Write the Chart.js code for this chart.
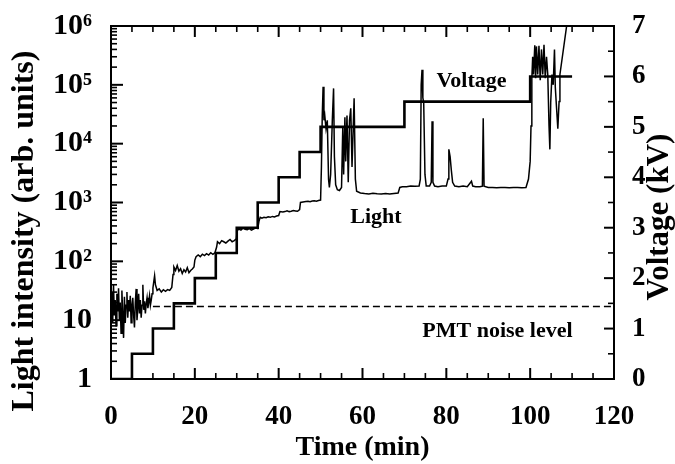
<!DOCTYPE html>
<html>
<head>
<meta charset="utf-8">
<script src="https://cdn.jsdelivr.net/npm/chart.js@4/dist/chart.umd.min.js"></script>
<style>
html,body{margin:0;padding:0;background:#fff;}
#wrap{width:675px;height:464px;}
</style>
</head>
<body>
<div id="wrap"><canvas id="c" width="675" height="464"></canvas></div>
<script>
// ---------- DATA ----------
const voltageTimes  = [0, 5, 10, 15, 20, 25, 30, 35, 40, 45, 50, 70, 100, 110];
const voltageValues = [0, 0.5, 1.0, 1.5, 2.0, 2.5, 3.0, 3.5, 4.0, 4.5, 5.0, 5.5, 6.0, 6.0];

const lightTimes = [
  0.0,0.2,0.4,0.6,0.8,1.0,1.2,1.4,1.6,1.8,
  2.0,2.2,2.4,2.6,2.8,3.0,3.2,3.4,3.6,3.8,
  4.0,4.2,4.4,4.6,4.8,5.0,5.2,5.4,5.6,5.8,
  6.0,6.2,6.4,6.6,6.8,7.0,7.2,7.4,7.6,7.8,
  8.0,8.2,8.4,8.6,8.8,9.0,9.2,9.4,9.6,9.8,
  10.0,10.2,10.4,10.6,10.8,11.0,11.5,12.0,12.5,13.0,
  13.5,14.0,14.5,14.8,15.0,15.4,15.8,16.2,16.6,17.0,
  17.4,17.8,18.2,18.6,19.0,19.4,19.8,20.0,20.3,20.8,
  21.3,21.8,22.3,22.8,23.3,23.8,24.3,24.8,25.2,25.4,
  25.9,26.4,26.9,27.4,27.9,28.4,28.9,29.4,29.9,30.1,
  30.5,31.0,31.5,32.0,32.5,33.0,33.5,34.0,34.5,35.0,
  35.3,35.6,36.0,36.5,37.0,37.5,38.0,38.5,39.0,39.5,
  40.0,40.3,41.0,41.5,42.0,42.5,43.0,43.5,44.0,44.5,
  45.0,45.2,45.8,46.5,47.0,47.5,48.0,48.5,49.0,49.5,
  50.0,50.2,50.4,50.6,50.8,51.0,51.3,51.6,51.9,52.1,
  52.4,52.8,53.1,53.3,53.6,54.0,54.5,55.0,55.3,55.5,
  55.8,56.0,56.3,56.6,56.9,57.2,57.5,57.8,58.0,58.3,
  58.6,59.5,60.5,61.5,62.5,63.5,64.5,65.5,66.5,67.5,
  68.5,68.9,69.5,70.5,71.5,72.5,73.5,73.8,74.0,74.2,
  74.4,74.6,74.9,75.2,76.0,76.4,76.6,76.8,77.2,78.0,
  79.0,80.0,80.4,80.6,80.9,81.2,81.5,82.0,83.0,84.0,
  85.0,86.0,86.3,87.0,88.0,88.6,88.8,89.0,90.0,91.0,
  92.0,93.0,94.0,95.0,96.0,97.0,98.0,99.0,99.6,100.0,
  100.2,100.4,100.6,100.8,101.1,101.3,101.5,101.8,102.1,102.4,
  102.7,103.0,103.3,103.6,103.9,104.2,104.5,104.7,104.9,105.2,
  105.5,105.8,106.0,106.3,106.6,106.9,107.1,108.7,109.4
];
const lightValues = [
  15,30,9,40,12,22,8,28,14,35,
  10,20,6,32,12,5,25,9,18,30,
  11,22,14,26,9,18,24,12,7.5,20,
  34,10,16,28,13,22,11,18,40,15,
  21,13,19,24,16,20,26,18,22,28,
  35,45,57,40,36,32,34,30,33,31,
  33,32,36,60,80,70,85,68,75,62,
  72,66,78,64,70,74,80,105,120,128,
  120,132,125,135,128,140,132,140,175,215,
  200,225,215,205,220,235,215,225,240,330,
  355,340,365,350,345,360,340,355,370,360,
  480,560,540,560,550,570,560,580,570,590,
  600,700,690,700,720,700,710,730,720,710,
  760,1000,1020,1040,1050,1030,1060,1070,1050,1080,
  1100,4000,30000,93000,25000,30000,18000,25000,2500,1800,
  3000,25000,87000,6000,2000,1650,1600,1800,20000,3000,
  28000,5000,30000,2200,25000,40000,4000,20000,59000,2500,
  1550,1450,1420,1400,1430,1410,1400,1420,1390,1420,
  1450,1800,1850,1850,1900,1880,1900,2500,100000,180000,
  60000,50000,3000,1900,1900,2200,24000,2200,1900,1850,
  1900,1900,2500,8000,6000,3500,2200,1900,1850,1900,
  1850,2300,1900,1850,1850,1900,27000,1900,1800,1800,
  1780,1800,1800,1780,1800,1800,1780,1800,2500,5000,
  20000,128000,300000,150000,470000,130000,450000,150000,460000,120000,
  400000,150000,480000,130000,300000,150000,20000,8000,50000,150000,
  100000,400000,90000,40000,18000,52000,150000,1000000,2000000
];

const noiseTimes  = [10, 120];
const noiseValues = [17, 17];

const timeTicks      = [0,5,10,15,20,25,30,35,40,45,50,55,60,65,70,75,80,85,90,95,100,105,110,115,120];
const timeMajorTicks = [0,20,40,60,80,100,120];

const intensityMajorTicks  = [1, 10, 100, 1000, 10000, 100000, 1000000];
const intensityTickLabels  = ['1', '10', '10²', '10³', '10⁴', '10⁵', '10⁶'];
const intensityMinorFactors = [2,3,4,5,6,7,8,9];

const voltageTicks      = [0,0.5,1,1.5,2,2.5,3,3.5,4,4.5,5,5.5,6,6.5,7];
const voltageTickLabels = ['0','1','2','3','4','5','6','7'];

// ---------- CHART ----------
const FONT = 'Liberation Serif, Times New Roman, serif';
Chart.defaults.color = '#000';
Chart.defaults.font.family = FONT;
Chart.defaults.font.weight = 'bold';

const intensityTicks = [];
intensityMajorTicks.forEach((m, i) => {
  intensityTicks.push({value: m, major: true});
  if (i < intensityMajorTicks.length - 1) intensityMinorFactors.forEach(f => intensityTicks.push({value: m * f, major: false}));
});

const annotations = [
  {text: 'Voltage', x: 86.0, y: 5.9, axis: 'y2'},
  {text: 'Light', x: 63.2, y: 550, axis: 'y'},
  {text: 'PMT noise level', x: 92.2, y: 6.5, axis: 'y'}
];

const framePlugin = {
  id: 'frame',
  afterDatasetsDraw(chart) {
    const ctx = chart.ctx, a = chart.chartArea;
    const xs = chart.scales.x, ys = chart.scales.y, vs = chart.scales.y2;
    ctx.save();
    ctx.strokeStyle = '#000';
    ctx.lineCap = 'butt';
    ctx.lineWidth = 2;
    ctx.beginPath(); ctx.moveTo(a.left - 1, a.top); ctx.lineTo(a.right + 1, a.top); ctx.stroke();
    xs.ticks.forEach(t => {
      const p = xs.getPixelForValue(t.value);
      const major = timeMajorTicks.includes(t.value);
      const len = major ? 11 : 6;
      ctx.lineWidth = major ? 2 : 1.6;
      ctx.beginPath();
      ctx.moveTo(p, a.bottom); ctx.lineTo(p, a.bottom - len);
      ctx.moveTo(p, a.top); ctx.lineTo(p, a.top + len);
      ctx.stroke();
    });
    ys.ticks.forEach(t => {
      const p = ys.getPixelForValue(t.value);
      const len = t.major ? 12 : 6;
      ctx.lineWidth = t.major ? 2 : 1.6;
      ctx.beginPath(); ctx.moveTo(a.left, p); ctx.lineTo(a.left + len, p); ctx.stroke();
    });
    vs.ticks.forEach(t => {
      const p = vs.getPixelForValue(t.value);
      const major = Number.isInteger(t.value);
      const len = major ? 10 : 6;
      ctx.lineWidth = major ? 2 : 1.6;
      ctx.beginPath(); ctx.moveTo(a.right, p); ctx.lineTo(a.right - len, p); ctx.stroke();
    });
    ctx.restore();
  },
  afterDraw(chart) {
    const ctx = chart.ctx;
    ctx.save();
    ctx.fillStyle = '#000';
    ctx.font = 'bold 22px ' + FONT;
    ctx.textAlign = 'center';
    ctx.textBaseline = 'middle';
    annotations.forEach(an => {
      const px = chart.scales.x.getPixelForValue(an.x);
      const py = chart.scales[an.axis].getPixelForValue(an.y);
      ctx.fillText(an.text, px, py);
    });
    ctx.save();
    ctx.font = 'bold 32px ' + FONT;
    ctx.translate(25, 231);
    ctx.rotate(-Math.PI / 2);
    ctx.fillText('Light intensity (arb. units)', 0, 0);
    ctx.restore();
    ctx.save();
    ctx.font = 'bold 31px ' + FONT;
    ctx.translate(660, 217);
    ctx.rotate(-Math.PI / 2);
    ctx.fillText('Voltage (kV)', 0, 0);
    ctx.restore();
    ctx.restore();
  }
};

new Chart(document.getElementById('c'), {
  type: 'line',
  data: {
    datasets: [
      {
        label: 'Light',
        data: lightTimes.map((t, i) => ({x: t, y: lightValues[i]})),
        yAxisID: 'y',
        borderColor: '#000',
        borderWidth: 1.5,
        pointRadius: 0,
        tension: 0
      },
      {
        label: 'Voltage',
        data: voltageTimes.map((t, i) => ({x: t, y: voltageValues[i]})),
        yAxisID: 'y2',
        stepped: 'before',
        borderColor: '#000',
        borderWidth: 2.6,
        pointRadius: 0
      },
      {
        label: 'PMT noise level',
        data: noiseTimes.map((t, i) => ({x: t, y: noiseValues[i]})),
        yAxisID: 'y',
        borderColor: '#000',
        borderWidth: 1.5,
        borderDash: [7, 4],
        pointRadius: 0
      }
    ]
  },
  options: {
    responsive: false,
    animation: false,
    devicePixelRatio: 1,
    layout: {padding: {top: 24, left: 0, right: 0, bottom: 0}},
    plugins: {legend: {display: false}, tooltip: {enabled: false}},
    scales: {
      x: {
        type: 'linear',
        position: 'bottom',
        min: 0, max: 120,
        afterBuildTicks: s => { s.ticks = timeTicks.map(v => ({value: v})); },
        afterFit: s => { s.height = 85; },
        grid: {display: false},
        border: {display: true, color: '#000', width: 2},
        ticks: {
          autoSkip: false, maxRotation: 0, padding: 17,
          font: {size: 27, weight: 'bold', lineHeight: 1},
          callback: v => timeMajorTicks.includes(v) ? String(v) : ''
        },
        title: {
          display: true, text: 'Time (min)',
          font: {size: 28, weight: 'bold', lineHeight: 1},
          padding: {top: 0, bottom: 2}
        }
      },
      y: {
        type: 'logarithmic',
        position: 'left',
        min: 1, max: 1000000,
        afterBuildTicks: s => { s.ticks = intensityTicks.map(t => ({value: t.value, major: t.major})); },
        afterFit: s => { s.width = 111; },
        grid: {display: false},
        border: {display: true, color: '#000', width: 2},
        ticks: {
          autoSkip: false, padding: 11,
          font: {size: 30, weight: 'bold', lineHeight: 1},
          callback: v => {
            const i = intensityMajorTicks.indexOf(v);
            return i >= 0 ? intensityTickLabels[i] : '';
          }
        }
      },
      y2: {
        type: 'linear',
        position: 'right',
        min: 0, max: 7,
        afterBuildTicks: s => { s.ticks = voltageTicks.map(v => ({value: v})); },
        afterFit: s => { s.width = 61; },
        grid: {display: false},
        border: {display: true, color: '#000', width: 2},
        ticks: {
          autoSkip: false, padding: 10,
          font: {size: 27, weight: 'bold', lineHeight: 1},
          callback: v => Number.isInteger(v) ? voltageTickLabels[v] : ''
        }
      }
    }
  },
  plugins: [framePlugin]
});
</script>
</body>
</html>
